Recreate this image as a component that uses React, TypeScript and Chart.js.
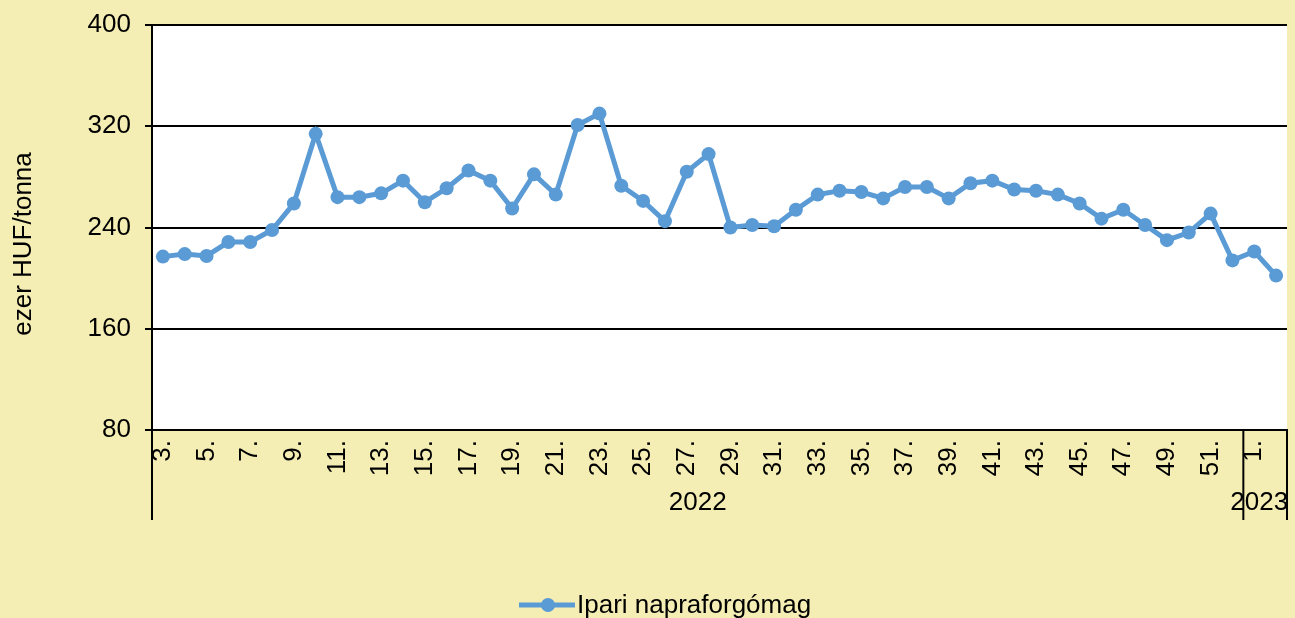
import React, { useEffect, useRef } from "react";
import { Chart, registerables } from "chart.js";

Chart.register(...registerables);

const weeks2022: string[] = [
  "3.", "4.", "5.", "6.", "7.", "8.", "9.", "10.", "11.", "12.", "13.", "14.", "15.", "16.", "17.", "18.", "19.", "20.",
  "21.", "22.", "23.", "24.", "25.", "26.", "27.", "28.", "29.", "30.", "31.", "32.", "33.", "34.", "35.", "36.", "37.",
  "38.", "39.", "40.", "41.", "42.", "43.", "44.", "45.", "46.", "47.", "48.", "49.", "50.", "51.", "52.",
];
const weeks2023: string[] = ["1.", "2."];
const years: string[] = ["2022", "2023"];

const prices: number[] = [
  217, 219, 217.5, 228.5, 228.5, 238, 259, 314, 264, 264, 267, 277, 260, 271, 285, 277, 255, 282, 266, 321,
  330, 273, 261, 245, 284, 298, 240, 242, 241, 254, 266, 269, 268, 263, 272, 272, 263, 275, 277, 270, 269, 266,
  259, 247, 254, 242, 230, 236, 251, 214, 221, 202,
];

const seriesName = "Ipari napraforgómag";
const yTitle = "ezer HUF/tonna";
const yMin = 80;
const yMax = 400;
const yStep = 80;

const FONT = "'Liberation Sans', Arial, sans-serif";
const LINE_COLOR = "#5B9BD5";
const BG = "#F5EEB4";

export default function App() {
  const ref = useRef<HTMLCanvasElement | null>(null);

  useEffect(() => {
    if (!ref.current) return;
    const labels = [...weeks2022, ...weeks2023];

    const overlay = {
      id: "overlay",
      beforeDraw(chart: any) {
        const { ctx, chartArea } = chart;
        ctx.save();
        ctx.fillStyle = "#ffffff";
        ctx.fillRect(chartArea.left, chartArea.top, chartArea.right - chartArea.left, chartArea.bottom - chartArea.top);
        ctx.restore();
      },
      afterDraw(chart: any) {
        const { ctx, chartArea } = chart;
        const x = chart.scales.x;
        const n2022 = weeks2022.length;
        const step = x.getPixelForValue(1) - x.getPixelForValue(0);
        const sep = x.getPixelForValue(n2022 - 1) + step / 2;
        const left = chartArea.left;
        const right = chartArea.right;
        const bottom = chartArea.bottom;
        ctx.save();
        ctx.strokeStyle = "#000";
        ctx.lineWidth = 2;
        [left, sep, right].forEach((px) => {
          ctx.beginPath();
          ctx.moveTo(px, bottom);
          ctx.lineTo(px, 520);
          ctx.stroke();
        });
        ctx.fillStyle = "#000";
        ctx.font = `26px ${FONT}`;
        ctx.textAlign = "center";
        ctx.textBaseline = "middle";
        ctx.fillText(years[0], (left + sep) / 2, 503);
        ctx.fillText(years[1], (sep + right) / 2 - 6, 503);

        // y-axis title
        ctx.save();
        ctx.translate(24, 244);
        ctx.rotate(-Math.PI / 2);
        ctx.fillText(yTitle, 0, 0);
        ctx.restore();

        // legend
        const ly = 605;
        ctx.strokeStyle = LINE_COLOR;
        ctx.lineWidth = 5;
        ctx.beginPath();
        ctx.moveTo(519, ly);
        ctx.lineTo(575, ly);
        ctx.stroke();
        ctx.fillStyle = LINE_COLOR;
        ctx.beginPath();
        ctx.arc(548, ly, 7, 0, Math.PI * 2);
        ctx.fill();
        ctx.fillStyle = "#000";
        ctx.textAlign = "left";
        ctx.fillText(seriesName, 577, ly + 1);
        ctx.restore();
      },
    };

    const chart = new Chart(ref.current, {
      type: "line",
      data: {
        labels,
        datasets: [
          {
            label: seriesName,
            data: prices,
            borderColor: LINE_COLOR,
            backgroundColor: LINE_COLOR,
            borderWidth: 5,
            pointRadius: 7,
            pointBackgroundColor: LINE_COLOR,
            pointBorderColor: LINE_COLOR,
            pointBorderWidth: 0,
            tension: 0,
          },
        ],
      },
      options: {
        animation: false,
        responsive: false,
        maintainAspectRatio: false,
        layout: { padding: { top: 25, right: 8, left: 0, bottom: 0 } },
        plugins: {
          legend: { display: false },
          tooltip: { enabled: false },
        },
        scales: {
          x: {
            type: "category",
            offset: true,
            grid: { display: false, drawTicks: false },
            border: { display: true, color: "#000", width: 2 },
            ticks: {
              autoSkip: false,
              maxRotation: 90,
              minRotation: 90,
              padding: 10,
              color: "#000",
              font: { size: 26, family: FONT },
              callback: (_v: any, i: number) => (i % 2 === 0 ? labels[i] : ""),
            },
            afterFit: (s: any) => {
              s.height = 188;
              s.paddingRight = 0;
              s.paddingLeft = 0;
            },
          },
          y: {
            min: yMin,
            max: yMax,
            ticks: {
              stepSize: yStep,
              padding: 14,
              color: "#000",
              font: { size: 26, family: FONT },
            },
            grid: { color: "#000", lineWidth: 2, tickLength: 7, drawTicks: true },
            border: { display: true, color: "#000", width: 2 },
            afterFit: (s: any) => {
              s.width = 152;
              s.paddingTop = 0;
              s.paddingBottom = 0;
            },
          },
        },
      },
      plugins: [overlay],
    });
    return () => chart.destroy();
  }, []);

  return (
    <div style={{ position: "fixed", left: 0, top: 0, width: 1295, height: 618, background: BG }}>
      <canvas ref={ref} width={1295} height={618} style={{ display: "block", width: 1295, height: 618 }} />
    </div>
  );
}
